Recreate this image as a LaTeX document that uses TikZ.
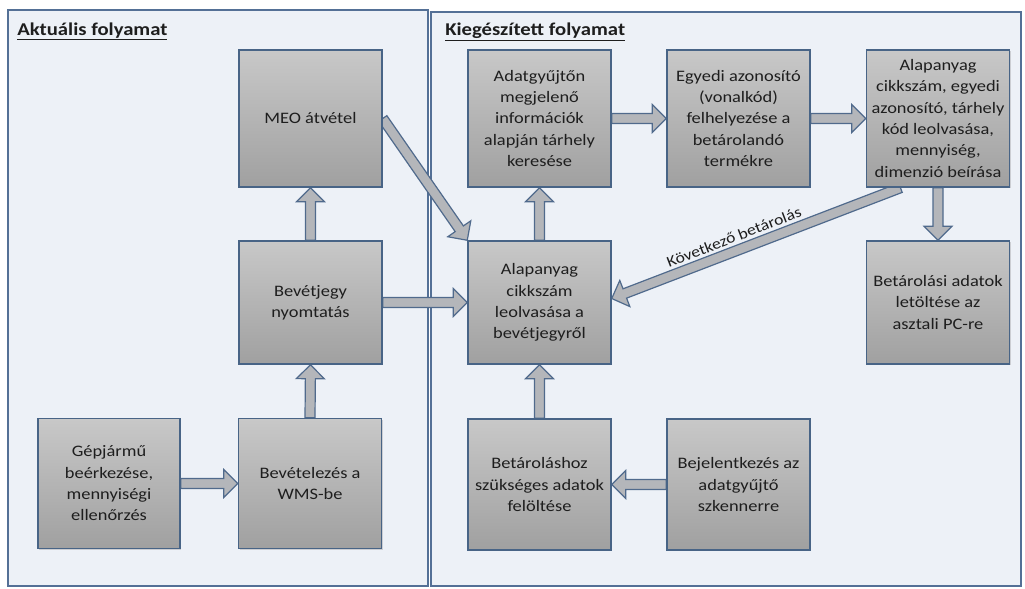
\documentclass[tikz,border=0pt]{standalone}
\usepackage{fontspec}
\setmainfont{Carlito}[FakeStretch=1.15]
\usetikzlibrary{calc,shadows}
\definecolor{panelfill}{RGB}{237,241,247}
\definecolor{panelline}{RGB}{84,112,150}
\definecolor{boxtop}{RGB}{200,200,200}
\definecolor{boxbot}{RGB}{160,160,160}
\definecolor{boxline}{RGB}{72,100,134}
\definecolor{arrfill}{RGB}{180,182,186}
\definecolor{arrline}{RGB}{80,106,140}
\definecolor{txt}{RGB}{30,30,30}
\pgfdeclarelayer{back}
\pgfdeclarelayer{arrows}
\pgfsetlayers{back,arrows,main}
\newcommand\blockarrow[2]{%
  \coordinate (ba-s) at #1;
  \coordinate (ba-e) at #2;
  \coordinate (ba-h) at ($(ba-e)!10.5pt!(ba-s)$);
  \draw[barrow] ($(ba-s)!3.75pt!90:(ba-e)$) -- ($(ba-h)!3.75pt!90:(ba-e)$)
    -- ($(ba-h)!10.5pt!90:(ba-e)$) -- (ba-e) -- ($(ba-h)!10.5pt!-90:(ba-e)$)
    -- ($(ba-h)!3.75pt!-90:(ba-e)$) -- ($(ba-s)!3.75pt!-90:(ba-e)$) -- cycle;}
\begin{document}
\begin{tikzpicture}[x=0.75pt,y=-0.75pt,
  box/.style={draw=boxline, line width=1.1pt, top color=boxtop, bottom color=boxbot,
    minimum width=107.25pt, inner sep=2pt, align=center, text=txt,
    font=\fontsize{12}{16}\selectfont,
    drop shadow={shadow xshift=1pt, shadow yshift=-1pt, opacity=0.3}},
  barrow/.style={draw=arrline, fill=arrfill, line width=0.9pt, line join=miter},
  panel/.style={draw=panelline, fill=panelfill, line width=1.2pt},
  title/.style={font=\fontsize{13.5}{16}\selectfont\bfseries, text=txt, inner sep=0pt},
  lbl/.style={font=\fontsize{11.5}{14}\selectfont, text=txt, inner sep=1pt}]
\useasboundingbox (0,0) rectangle (1025,589);
\begin{pgfonlayer}{back}
  \fill[white] (0,0) rectangle (1025,589);
  \draw[panel] (8,10) rectangle (428,586);
  \draw[panel] (431,12) rectangle (1021,586);
\end{pgfonlayer}

\node[title, anchor=base west] (t1) at (17,35) {\underline{Aktuális folyamat}};
\node[title, anchor=base west] (t2) at (445,35) {\underline{Kiegészített folyamat}};

\node[box, minimum height=102.75pt] (meo) at (310.5,118.5) {MEO átvétel};
\node[box, minimum height=92.25pt] (bj) at (310.5,302.5) {Bevétjegy\\nyomtatás};
\node[box, minimum height=97.5pt, minimum width=106.5pt] (gj) at (109,483.5) {Gépjármű\\beérkezése,\\mennyiségi\\ellenőrzés};
\node[box, minimum height=97.5pt] (bwms) at (310,483.5) {Bevételezés a\\WMS-be};

\node[box, minimum height=102.75pt] (adat) at (539.5,118.5) {Adatgyűjtőn\\megjelenő\\információk\\alapján tárhely\\keresése};
\node[box, minimum height=102.75pt] (egy) at (738.5,118.5) {Egyedi azonosító\\(vonalkód)\\felhelyezése a\\betárolandó\\termékre};
\node[box, minimum height=102.75pt] (tr) at (938,118.5) {Alapanyag\\cikkszám, egyedi\\azonosító, tárhely\\kód leolvasása,\\mennyiség,\\dimenzió beírása};
\node[box, minimum height=92.25pt] (cen) at (539.5,302.5) {Alapanyag\\cikkszám\\leolvasása a\\bevétjegyről};
\node[box, minimum height=92.25pt] (btl) at (938,302.5) {Betárolási adatok\\letöltése az\\asztali PC-re};
\node[box, minimum height=98.25pt] (bth) at (539.5,484.5) {Betároláshoz\\szükséges adatok\\felöltése};
\node[box, minimum height=98.25pt] (bej) at (738.5,484.5) {Bejelentkezés az\\adatgyűjtő\\szkennerre};

\begin{pgfonlayer}{arrows}
  \blockarrow{(gj.east)}{(bwms.west)}
  \blockarrow{(bwms.north)}{(bj.south)}
  \blockarrow{(bj.north)}{(meo.south)}
  \blockarrow{(bj.east)}{(cen.west)}
  \blockarrow{(meo.east)}{(cen.north west)}
  \blockarrow{(cen.north)}{(adat.south)}
  \blockarrow{(adat.east)}{(egy.west)}
  \blockarrow{(egy.east)}{(tr.west)}
  \blockarrow{(tr.south)}{(btl.north)}
  \blockarrow{([xshift=26pt]tr.south west)}{([yshift=3pt]cen.east)}
  \blockarrow{(bth.north)}{(cen.south)}
  \blockarrow{(bej.west)}{(bth.east)}
\end{pgfonlayer}

\path ([yshift=3pt]cen.east) -- ([xshift=26pt]tr.south west)
  node[lbl, pos=0.44, sloped, above=5pt] (nxt) {Következő betárolás};
\end{tikzpicture}
\end{document}
